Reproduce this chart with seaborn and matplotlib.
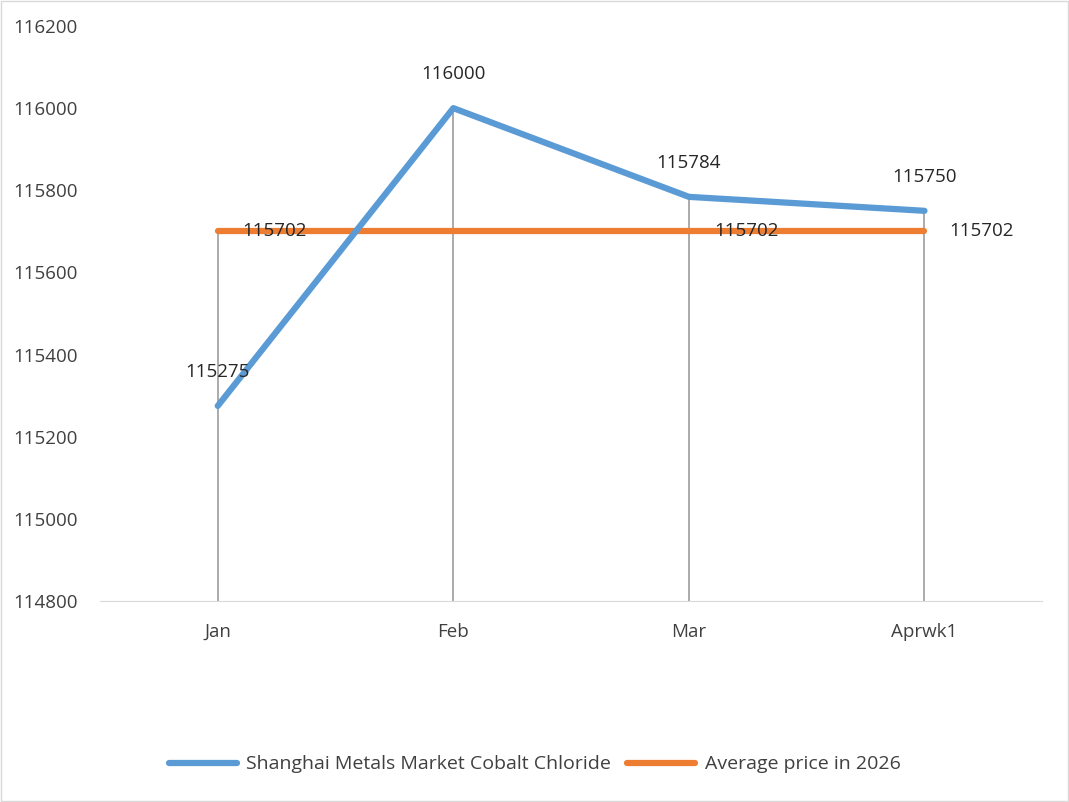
import matplotlib
matplotlib.use("Agg")
import matplotlib.pyplot as plt
import seaborn as sns
import pandas as pd

months = ["Jan", "Feb", "Mar", "Aprwk1"]
cobalt_chloride = [115275, 116000, 115784, 115750]
average_2026 = [115702, 115702, 115702, 115702]
# the reference shows no average label at Feb
avg_label_shown = [True, False, True, True]

sns.set_style("white")
plt.rcParams["font.family"] = ["Open Sans", "DejaVu Sans"]

df = pd.DataFrame({"month": months, "price": cobalt_chloride, "avg": average_2026})
x = list(range(len(months)))

fig = plt.figure(figsize=(10.69, 8.02), dpi=100)
ax = fig.add_axes([0.0935, 0.2506, 0.8815, 0.717])

# drop lines
for i in x:
    ax.vlines(i, 114800, max(cobalt_chloride[i], average_2026[i]), color="#a5a5a5", lw=1.3, zorder=1)

sns.lineplot(x=x, y=df["avg"], ax=ax, color="#ed7d31", lw=4.5, label="Average price in 2026", zorder=2)
sns.lineplot(x=x, y=df["price"], ax=ax, color="#5b9bd5", lw=4.5, label="Shanghai Metals Market Cobalt Chloride", zorder=3)

for i in x:
    ax.annotate(str(cobalt_chloride[i]), (i, cobalt_chloride[i]), xytext=(0, 18), textcoords="offset points",
                ha="center", va="bottom", fontsize=13.5, color="#262626")
    if avg_label_shown[i]:
        ax.annotate(str(average_2026[i]), (i, average_2026[i]), xytext=(18, 0), textcoords="offset points",
                    ha="left", va="center", fontsize=13.5, color="#262626")

ax.set_xlim(-0.5, 3.5)
ax.set_ylim(114800, 116200)
ax.set_yticks(range(114800, 116201, 200))
ax.set_xticks(x)
ax.set_xticklabels(months)
ax.tick_params(axis="both", labelsize=13.5, labelcolor="#404040", length=0)
ax.tick_params(axis="x", pad=16)
ax.tick_params(axis="y", pad=16)
for s in ["top", "right", "left"]:
    ax.spines[s].set_visible(False)
ax.spines["bottom"].set_color("#d9d9d9")
ax.set_xlabel("")
ax.set_ylabel("")

handles, labels = ax.get_legend_handles_labels()
ax.legend(handles[::-1], labels[::-1], loc="center", bbox_to_anchor=(0.5, 0.047), bbox_transform=fig.transFigure,
          ncol=2, frameon=False, fontsize=14, labelcolor="#404040", handlelength=3.5, columnspacing=0.8,
          handletextpad=0.5)

fig.patches.append(plt.Rectangle((0.001, 0.001), 0.998, 0.998, transform=fig.transFigure,
                                 fill=False, edgecolor="#d9d9d9", lw=1))
fig.savefig("out.png", dpi=100)
